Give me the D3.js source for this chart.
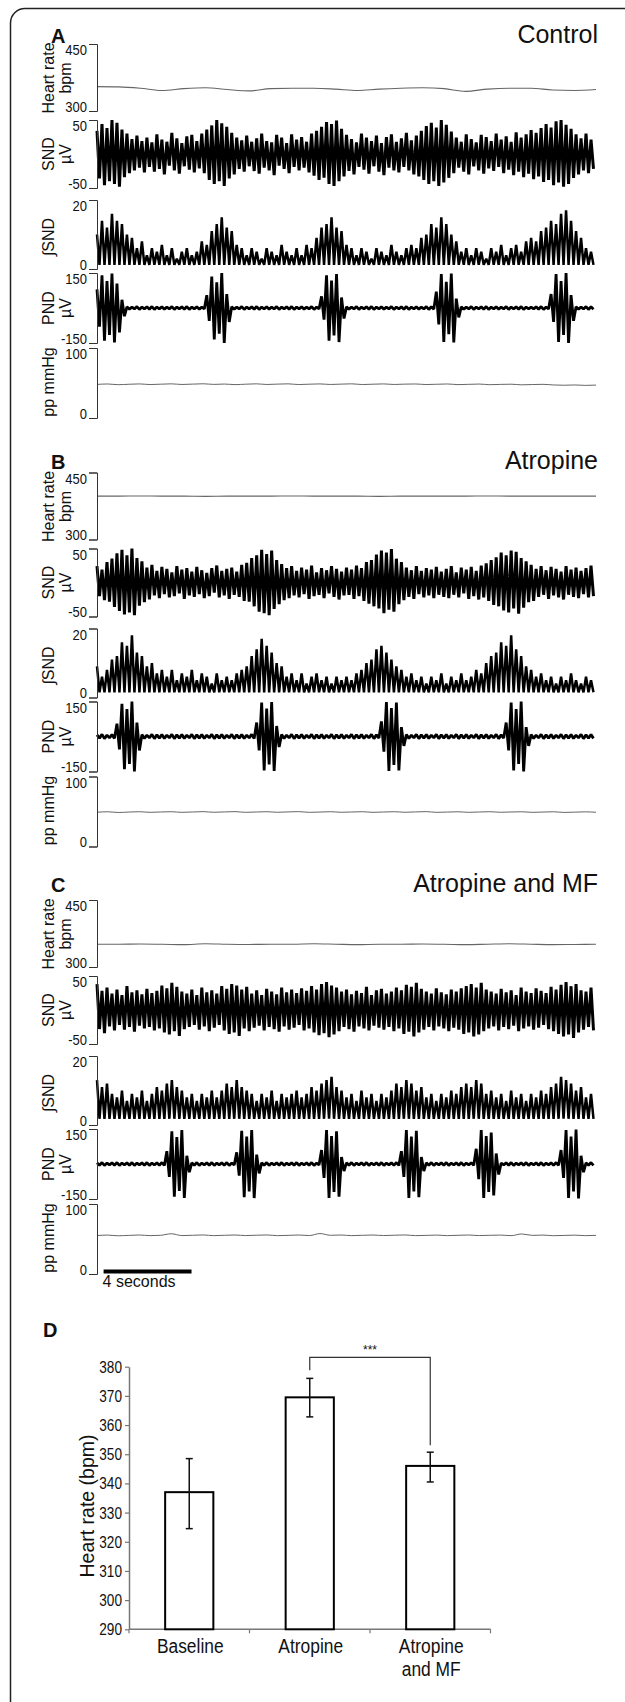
<!DOCTYPE html>
<html><head><meta charset="utf-8">
<script src="https://cdnjs.cloudflare.com/ajax/libs/d3/7.8.5/d3.min.js"></script>
<style>
body{margin:0;background:#fff}
svg{display:block}
text{font-family:"Liberation Sans",Arial,Helvetica,sans-serif;fill:#111}
</style>
</head><body>
<svg id="c" width="625" height="1702"></svg>
<script>
// ---------------- DATA ----------------
const DURATION = 22.7; // seconds shown in each recording
const panelLetters = ["A","B","C"];
const panelTitles = ["Control","Atropine","Atropine and MF"];
const hrTicks = [300,450], sndTicks = [-50,50], intTicks = [0,20], pndTicks = [-150,150], ppTicks = [0,100];
const scaleBarSeconds = 4;

// Heart rate (bpm)
const hrA = [354.5,354,351,346,350,352,348,345,350,351,351,349,346,349,351,352,350,344,349,351,351,347,346,348];
const hrB = [397,397,397.5,397,397,396.5,397,397,397,397.5,397,397,397,396.5,397,397,397,397,397.5,397,397,397,397,397];
const hrC = [351,351,351.5,351,350,352,351,350.5,351,351,352,351,350,351,351,351.5,351,350,351,352,351,350,350.5,351];

// SND (µV) upper / lower excursions
const sndHiA = [34,44,38,50,46,36,30,22,27,19, 24,17,29,21,18,31,23,16,26,28, 19,30,36,42,50,45,40,31,24,20, 27,18,23,30,19,17,28,24,16,29, 21,25,18,30,34,40,47,44,49,37, 28,22,17,30,24,19,27,16,25,29, 18,23,31,20,27,34,41,46,39,50, 43,33,24,18,29,22,17,28,25,19, 30,21,26,18,32,24,29,35,31,38, 44,39,48,50,43,37,29,23,30,21];
const sndLoA = [-36,-46,-40,-44,-48,-34,-28,-24,-20,-27, -19,-26,-22,-30,-17,-24,-29,-18,-23,-27, -21,-28,-38,-44,-40,-47,-36,-30,-22,-26, -18,-25,-29,-20,-24,-31,-17,-22,-28,-19, -24,-20,-27,-32,-38,-35,-44,-47,-40,-33, -25,-30,-19,-23,-29,-18,-26,-31,-20,-24, -27,-19,-24,-30,-33,-38,-44,-40,-47,-42, -35,-28,-20,-26,-30,-18,-24,-29,-21,-25, -19,-28,-23,-31,-26,-34,-29,-37,-33,-41, -38,-46,-42,-48,-44,-35,-30,-24,-28,-22];
const sndHiB = [24,19,30,35,43,48,40,50,36,31, 22,26,17,23,20,15,24,19,21,16, 23,18,14,21,25,17,20,22,16,26, 29,36,40,48,42,47,33,27,21,24, 17,22,19,25,15,21,18,24,20,16, 22,19,25,21,30,33,41,47,44,49, 35,30,22,18,24,17,21,19,23,16, 20,24,15,22,19,23,17,25,28,33, 37,44,40,47,45,36,31,26,20,24, 18,23,20,16,24,19,22,17,21,25];
const sndLoB = [-20,-26,-28,-36,-42,-47,-44,-48,-34,-29, -25,-19,-23,-17,-22,-20,-16,-24,-19,-21, -17,-23,-20,-15,-22,-19,-24,-18,-21,-27, -28,-35,-43,-45,-48,-39,-32,-26,-23,-19, -22,-17,-24,-20,-18,-23,-16,-21,-25,-19, -18,-24,-20,-27,-31,-35,-38,-45,-40,-43, -32,-26,-21,-24,-17,-22,-19,-23,-18,-21, -23,-18,-22,-16,-24,-20,-25,-22,-27,-33, -35,-41,-44,-38,-46,-37,-29,-27,-21,-18, -24,-19,-22,-25,-18,-21,-23,-17,-22,-20];
const sndHiC = [38,28,33,24,30,22,35,26,29,23, 31,25,28,36,32,40,34,27,24,30, 22,33,26,29,24,35,31,38,36,30, 34,24,29,22,31,27,23,33,26,30, 25,32,28,35,30,38,41,36,33,27, 30,23,28,25,34,22,29,31,24,27, 33,29,37,34,40,31,27,24,32,26, 23,30,27,32,35,38,33,40,30,27, 24,31,26,29,22,33,27,25,32,28, 25,34,30,37,41,35,38,29,27,33];
const sndLoC = [-28,-34,-24,-30,-22,-29,-25,-32,-23,-27, -25,-30,-27,-33,-36,-31,-38,-28,-25,-22, -29,-24,-31,-26,-22,-30,-35,-33,-38,-27, -31,-26,-23,-30,-25,-28,-32,-24,-29,-26, -22,-30,-27,-33,-37,-34,-40,-36,-31,-25, -28,-32,-24,-27,-30,-23,-26,-29,-25,-31, -27,-35,-32,-39,-33,-29,-25,-30,-24,-27, -31,-26,-29,-35,-33,-39,-36,-31,-27,-24, -30,-25,-28,-23,-31,-27,-24,-29,-26,-22, -28,-31,-35,-39,-36,-41,-33,-29,-25,-30];

// Integrated SND (a.u.) peak values, with the trough level of each panel
const intHiA = [10,14,12,16,14,13,10,9,6,8, 4,6,5,7,4,6,3,5,6,4, 5,8,7,11,13,15,12,11,7,6, 4,6,5,3,6,5,4,7,5,4, 6,4,7,6,9,12,13,15,12,11, 7,6,4,6,5,3,6,5,4,7, 5,4,6,7,6,9,10,13,12,15, 13,10,8,5,6,4,6,5,3,6, 5,7,4,6,7,5,8,9,8,11, 12,14,13,16,17,14,11,9,6,5];
const intHiB = [9,6,8,11,12,16,15,18,13,12, 9,10,7,8,6,8,5,7,6,8, 5,7,6,4,7,5,6,5,7,8, 9,12,14,17,15,13,10,9,6,7, 5,7,4,6,7,5,6,4,6,5, 6,5,7,8,10,11,14,15,13,11, 9,8,6,7,5,6,4,6,5,7, 4,6,5,7,5,6,8,7,10,12, 13,16,15,18,14,12,9,8,6,7, 5,6,4,6,5,7,5,4,6,5];
const intHiC = [13,11,12,9,8,10,7,9,8,10, 7,9,11,10,12,13,11,10,8,9, 7,9,8,10,8,10,12,11,13,11, 10,9,7,9,8,10,7,9,8,9, 10,8,9,11,10,12,13,14,11,10, 8,9,7,10,8,9,7,9,8,10, 12,11,13,12,10,11,8,9,7,9, 8,10,9,11,12,11,13,12,9,10, 8,9,7,10,8,9,7,9,8,10, 9,11,12,14,13,12,10,11,8,9];
const intLo = [1.2, 1.5, 1.8];

// PND (µV) excursion amplitude
const pndA = [80,140,115,148,105,35,5,4,6,4, 5,6,4,5,4,6,4,5,6,4, 5,4,55,135,110,150,60,5,4,6, 4,5,6,4,5,4,6,4,5,6, 4,5,4,6,4,50,140,118,146,45, 5,4,6,4,5,6,4,5,4,6, 4,5,6,4,5,4,6,5,70,145, 112,148,40,5,4,6,4,5,6,4, 5,4,6,4,5,6,4,4,5,6, 4,60,145,115,150,55,5,4,6,5];
const pndB = [7,9,6,8,55,140,118,150,60,8, 6,9,7,8,6,9,7,8,6,9, 7,8,6,9,7,8,6,9,7,8, 6,9,60,145,120,148,45,8,6,9, 7,8,6,9,7,8,6,9,7,8, 6,9,7,8,6,9,7,65,148,122, 145,40,8,6,9,7,8,6,9,7, 8,6,9,7,8,6,9,7,8,6, 9,7,60,145,118,150,40,8,6,9, 7,8,6,9,7,8,6,9,7,8];
const pndC = [5,6,4,5,6,4,5,6,4,5, 6,4,5,6,55,140,115,145,35,5, 6,4,5,6,4,5,6,4,50,142, 118,146,40,5,6,4,5,6,4,5, 6,4,5,6,4,60,145,120,140,30, 5,6,4,5,6,4,5,6,4,5, 6,55,145,118,142,30,5,6,4,5, 6,4,5,6,4,5,65,145,120,135, 45,4,5,6,4,5,6,4,5,6, 4,5,6,60,145,118,148,35,5,6];

// Pulse pressure (mmHg)
const ppA = [48,48.6,47.6,48.2,48.7,47.8,48.3,48.8,47.9,48.4,48.9,48,48.5,47.7,48.3,48.8,47.9,48.4,48.8,47.8,48.3,48.7,47.9,48.4,48.8,47.8,48.3,48.7,47.9,48.4,48.6,47.8,48.2,48.6,47.7,48.1,48.5,47.6,48,48.3,47.4,47.8,48.1,47.2,46.8,47.2,46.6,47];
const ppB = [49,49.6,48.6,49.2,49.7,48.8,49.3,49.7,48.8,49.3,49.8,48.9,49.4,49.8,48.8,49.3,49.7,48.9,49.4,49.8,48.8,49.2,49.7,48.9,49.3,49.7,48.8,49.3,49.7,48.9,49.4,49.8,48.8,49.2,49.6,48.8,49.3,49.7,48.9,49.3,49.6,48.8,49.2,49.6,48.7,49.1,49.5,48.9];
const ppC = [55,55.6,54.6,55.2,55.7,54.8,55.3,57.5,54.9,55.3,55.8,54.8,55.3,55.7,54.9,55.4,55.8,54.8,55.2,55.7,54.9,57.8,55.3,55.7,54.8,55.3,55.7,54.9,55.4,55.8,54.8,55.2,55.6,54.8,55.3,55.7,54.9,55.3,55.6,54.8,57.2,55.2,55.6,54.7,55.1,55.5,54.8,55.2];

// Panel D: mean heart rate with error bars
const groups = ["Baseline","Atropine","Atropine and MF"];
const groupLabelLines = [["Baseline"],["Atropine"],["Atropine","and MF"]];
const hrMean = [337, 369.5, 346];
const hrErrHigh = [348.5, 376, 350.7];
const hrErrLow = [324.5, 362.8, 340.5];
const dTicks = [290,300,310,320,330,340,350,360,370,380];
const sigPair = [1,2];
const sigLabel = "***";

// ---------------- DRAW ----------------
const svg = d3.select("#c");
svg.append("rect").attr("width",625).attr("height",1702).attr("fill","#fff");
svg.append("path").attr("d","M625,8.5H25A14.5,14.5 0 0 0 10.5,23V1702")
  .attr("fill","none").attr("stroke","#222").attr("stroke-width",1.5);

function condense(sel, f){
  sel.each(function(){
    const w = this.getComputedTextLength();
    if (w > 0) d3.select(this).attr("textLength", (w*f).toFixed(1)).attr("lengthAdjust","spacingAndGlyphs");
  });
}

const x = d3.scaleLinear().domain([0, DURATION]).range([97, 596]);

const panels = [
  {hr:hrA, sndHi:sndHiA, sndLo:sndLoA, intHi:intHiA, intLo:intLo[0], pnd:pndA, pp:ppA},
  {hr:hrB, sndHi:sndHiB, sndLo:sndLoB, intHi:intHiB, intLo:intLo[1], pnd:pndB, pp:ppB},
  {hr:hrC, sndHi:sndHiC, sndLo:sndLoC, intHi:intHiC, intLo:intLo[2], pnd:pndC, pp:ppC}
];
const panelOffsets = [0, 428.5, 856];
const letterBase = [43, 40.5, 36];

const channels = [
  {key:"hr",  ticks:hrTicks,  range:[111,44], lines:["Heart rate","bpm"], cy:78},
  {key:"snd", ticks:sndTicks, range:[188,120], lines:["SND","µV"], cy:154},
  {key:"int", ticks:intTicks, range:[269,200], lines:["∫SND"], cy:237},
  {key:"pnd", ticks:pndTicks, range:[343,273], lines:["PND","µV"], cy:308},
  {key:"pp",  ticks:ppTicks,  range:[418,348], lines:["pp mmHg"], cy:382}
];

function zigzag(hi, lo, y){
  const n = hi.length, dt = DURATION / n, pts = [];
  for (let i = 0; i < n; i++) {
    pts.push([x(i*dt), y(hi[i])]);
    pts.push([x(i*dt + dt/2), y(typeof lo === "number" ? lo : lo[i])]);
  }
  return d3.line()(pts);
}
function smooth(vals, y){
  const n = vals.length;
  return d3.line().x((d,i)=>x(i*DURATION/(n-1))).y(d=>y(d)).curve(d3.curveMonotoneX)(vals);
}

panels.forEach((p, pi) => {
  const g = svg.append("g").attr("transform", `translate(0,${panelOffsets[pi]})`);

  channels.forEach(ch => {
    const y = d3.scaleLinear().domain(ch.ticks).range(ch.range);
    if (ch.key === "hr") {
      g.append("path").attr("d", smooth(p.hr, y)).attr("fill","none").attr("stroke","#666").attr("stroke-width",1.1);
    } else if (ch.key === "pp") {
      g.append("path").attr("d", smooth(p.pp, y)).attr("fill","none").attr("stroke","#666").attr("stroke-width",1);
    } else if (ch.key === "snd") {
      g.append("path").attr("d", zigzag(p.sndHi, p.sndLo, y)).attr("fill","none").attr("stroke","#000").attr("stroke-width",3).attr("stroke-linejoin","bevel");
    } else if (ch.key === "int") {
      g.append("path").attr("d", zigzag(p.intHi, p.intLo, y)).attr("fill","none").attr("stroke","#000").attr("stroke-width",2.5).attr("stroke-linejoin","bevel");
    } else if (ch.key === "pnd") {
      g.append("path").attr("d", zigzag(p.pnd, p.pnd.map(v=>-v), y)).attr("fill","none").attr("stroke","#000").attr("stroke-width",2.8).attr("stroke-linejoin","bevel");
    }

    const ax = g.append("g").attr("transform","translate(97,0)")
      .call(d3.axisLeft(y).tickValues(ch.ticks).tickSize(8).tickSizeOuter(8).tickPadding(2).tickFormat(d => String(d)));
    ax.select(".domain").attr("stroke","#333").attr("stroke-width",1);
    ax.selectAll(".tick line").attr("stroke","#333");
    ax.selectAll(".tick text").attr("font-size",15.5).attr("font-family",null).attr("fill","#111")
      .attr("dy", d => d === ch.ticks[1] ? "0.68em" : "0em").call(condense, 0.84);
    ch.lines.forEach((ln, li) => {
      g.append("text").attr("transform",`translate(${54 + li*17},${ch.cy}) rotate(-90)`)
        .attr("text-anchor","middle").attr("font-size",16).text(ln);
    });
  });

  g.append("text").attr("x",51).attr("y",letterBase[pi]).attr("font-size",20).attr("font-weight","bold").text(panelLetters[pi]);
  g.append("text").attr("x",598).attr("y",letterBase[pi]).attr("text-anchor","end").attr("font-size",25).text(panelTitles[pi]);
});

// scale bar
svg.append("line").attr("x1",x(0.3)).attr("x2",x(0.3+scaleBarSeconds)).attr("y1",1271.5).attr("y2",1271.5)
  .attr("stroke","#000").attr("stroke-width",4);
svg.append("text").attr("x",x(0.3)-1).attr("y",1287).attr("font-size",16).text(scaleBarSeconds + " seconds");

// ---------------- Panel D ----------------
svg.append("text").attr("x",43).attr("y",1337).attr("font-size",20).attr("font-weight","bold").text("D");
const yD = d3.scaleLinear().domain([290,380]).range([1629.3,1366.7]);
const xD = d3.scaleBand().domain(groups).range([129,490.5]).padding(0);
const barW = xD.bandwidth()*0.4;

const yAx = svg.append("g").attr("transform","translate(129,0)")
  .call(d3.axisLeft(yD).tickValues(dTicks).tickSize(4).tickSizeOuter(0).tickPadding(3));
yAx.select(".domain").attr("stroke","#777").attr("stroke-width",1.5);
yAx.selectAll(".tick line").attr("stroke","#777").attr("stroke-width",1.2);
yAx.selectAll(".tick text").attr("font-size",17).attr("font-family",null).attr("fill","#111").call(condense, 0.8);

const xAxG = svg.append("g");
xAxG.append("line").attr("x1",129).attr("x2",490.5).attr("y1",yD(290)).attr("y2",yD(290)).attr("stroke","#777").attr("stroke-width",1.5);
const bounds = groups.map(g=>xD(g)).concat([xD(groups[groups.length-1])+xD.bandwidth()]);
xAxG.selectAll(".xt").data(bounds).enter().append("line")
  .attr("x1",d=>d).attr("x2",d=>d).attr("y1",yD(290)).attr("y2",yD(290)+4).attr("stroke","#777").attr("stroke-width",1.2);

groups.forEach((gname, i) => {
  const cx = xD(gname) + xD.bandwidth()/2;
  groupLabelLines[i].forEach((ln, li) => {
    svg.append("text").attr("x",cx+1).attr("y",1652.7 + li*23.5).attr("text-anchor","middle")
      .attr("font-size",20).text(ln).call(condense, 0.87);
  });
});

svg.selectAll(".bar").data(groups).enter().append("rect")
  .attr("x",d=>xD(d)+xD.bandwidth()/2-barW/2)
  .attr("y",(d,i)=>yD(hrMean[i]))
  .attr("width",barW)
  .attr("height",(d,i)=>yD(290)-yD(hrMean[i]))
  .attr("fill","#fff").attr("stroke","#000").attr("stroke-width",2);

groups.forEach((gname,i)=>{
  const cx = xD(gname) + xD.bandwidth()/2;
  const e = svg.append("g").attr("stroke","#111").attr("stroke-width",1.5);
  e.append("line").attr("x1",cx).attr("x2",cx).attr("y1",yD(hrErrHigh[i])).attr("y2",yD(hrErrLow[i]));
  e.append("line").attr("x1",cx-3.5).attr("x2",cx+3.5).attr("y1",yD(hrErrHigh[i])).attr("y2",yD(hrErrHigh[i]));
  e.append("line").attr("x1",cx-3.5).attr("x2",cx+3.5).attr("y1",yD(hrErrLow[i])).attr("y2",yD(hrErrLow[i]));
});

const c1 = xD(groups[sigPair[0]]) + xD.bandwidth()/2;
const c2 = xD(groups[sigPair[1]]) + xD.bandwidth()/2;
const topY = yD(d3.max(sigPair.map(k=>hrErrHigh[k]))) - 21;
svg.append("path")
  .attr("d",`M${c1},${yD(hrErrHigh[sigPair[0]])-8}V${topY}H${c2}V${yD(hrErrHigh[sigPair[1]])-7}`)
  .attr("fill","none").attr("stroke","#333").attr("stroke-width",1.2);
svg.append("text").attr("x",(c1+c2)/2).attr("y",topY-3).attr("text-anchor","middle").attr("font-size",12).attr("fill","#333").text(sigLabel);

svg.append("text").attr("transform","translate(94,1506) rotate(-90)").attr("text-anchor","middle")
  .attr("font-size",19.5).text("Heart rate (bpm)");
</script>
</body></html>
